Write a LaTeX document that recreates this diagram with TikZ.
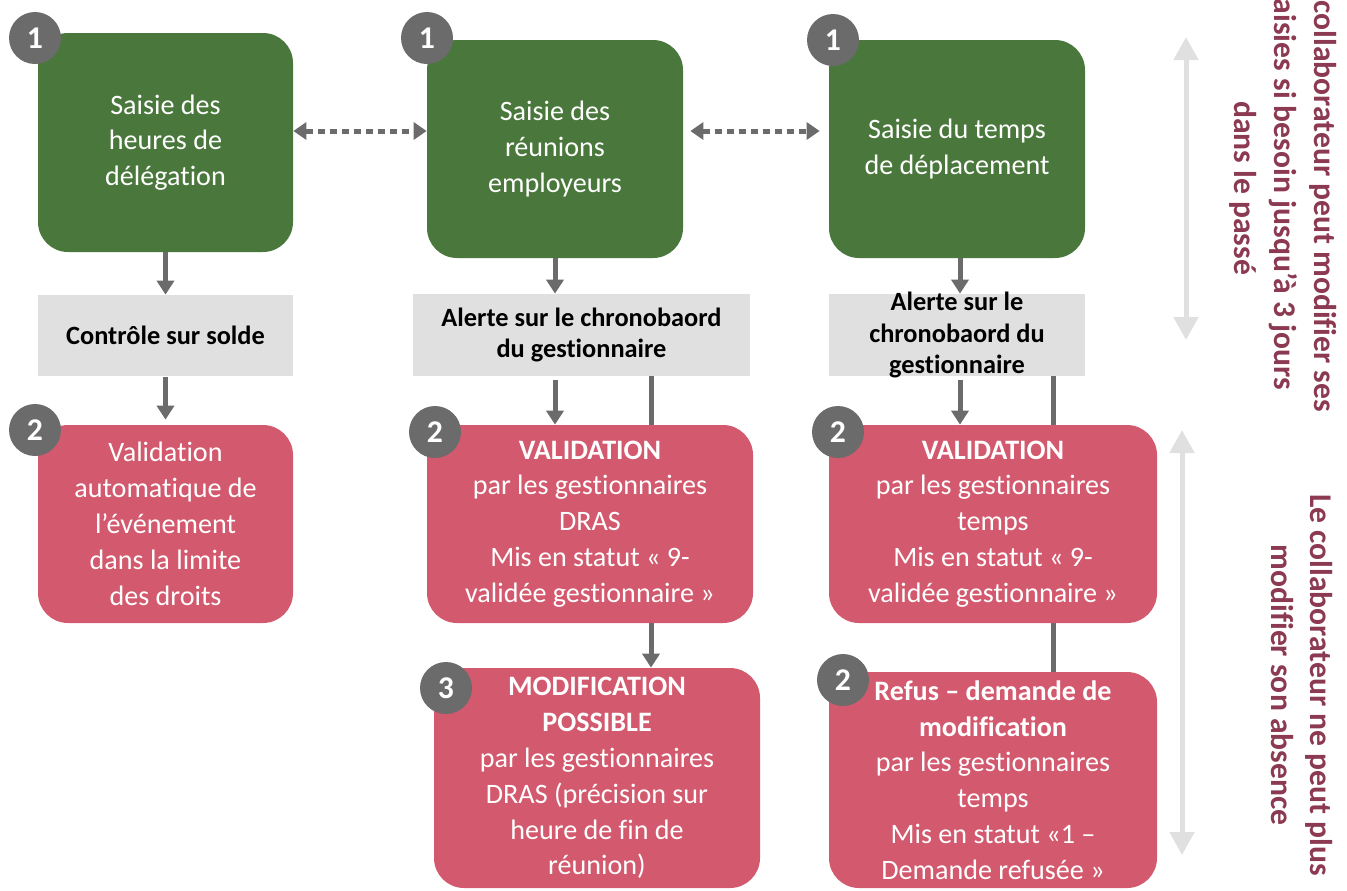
\documentclass[tikz,border=0pt]{standalone}
\usepackage{fontspec}
\setmainfont{Carlito}[Ligatures=NoCommon]
\usetikzlibrary{arrows.meta,backgrounds}

\definecolor{saisie}{HTML}{4A783C}
\definecolor{valid}{HTML}{D35A6E}
\definecolor{alerte}{HTML}{E0E0E0}
\definecolor{pastille}{HTML}{6B6B6B}
\definecolor{bordeaux}{HTML}{8B3A52}

\begin{document}
\begin{tikzpicture}[
	saisiebox/.style={fill=saisie, rounded corners=0.6cm, text=white, align=center, inner sep=0pt, font=\fontsize{16}{20.3}\selectfont},
	validbox/.style={fill=valid, rounded corners=0.6cm, text=white, align=center, inner sep=0pt, font=\fontsize{16}{20.4}\selectfont},
	alertebox/.style={fill=alerte, inner sep=0pt, align=center, font=\fontsize{15}{17.5}\selectfont\bfseries},
	badge/.style={circle, fill=pastille, text=white, minimum size=1.04cm, inner sep=0pt, font=\fontsize{18}{18}\selectfont\bfseries},
	lien/.style={draw=pastille, line width=0.1cm, -{Triangle[width=0.34cm,length=0.28cm]}},
	pointille/.style={draw=pastille, line width=0.1cm, dash pattern=on 0.14cm off 0.1cm, {Triangle[width=0.34cm,length=0.26cm]}-{Triangle[width=0.34cm,length=0.26cm]}},
	periode/.style={draw=alerte, line width=0.1cm, {Triangle[width=0.48cm,length=0.46cm]}-{Triangle[width=0.48cm,length=0.46cm]}},
	note/.style={rotate=-90, text=bordeaux, align=center, inner sep=0pt, font=\fontsize{18}{22.7}\selectfont\bfseries}
	]
	
	\useasboundingbox (0, 0) rectangle (26.94, -17.8);
	
	% saisies
	\node[saisiebox, minimum width=5.1cm, minimum height=4.38cm] (gA) at (3.31, -2.85) {Saisie des\\heures de\\délégation};
	\node[saisiebox, minimum width=5.12cm, minimum height=4.36cm] (gB) at (11.1, -2.98) {Saisie des\\réunions\\employeurs};
	\node[saisiebox, minimum width=5.12cm, minimum height=4.36cm] (gC) at (19.14, -2.98) {Saisie du temps\\de déplacement};
	
	% alertes
	\node[alertebox, minimum width=5.1cm, minimum height=1.62cm] (aA) at (3.31, -6.71) {Contrôle sur solde};
	\node[alertebox, minimum width=6.74cm, minimum height=1.64cm] (aB) at (11.63, -6.7) {Alerte sur le chronobaord\\du gestionnaire};
	\node[alertebox, minimum width=5.12cm, minimum height=1.64cm] (aC) at (19.14, -6.7) {};
	
	% validations
	\node[validbox, minimum width=5.1cm, minimum height=3.96cm] (vA) at (3.31, -10.48) {Validation\\automatique de\\l’événement\\dans la limite\\des droits};
	\node[validbox, minimum width=6.52cm, minimum height=3.96cm] (vB) at (11.8, -10.48) {\textbf{VALIDATION}\\par les gestionnaires\\DRAS\\Mis en statut « 9-\\validée gestionnaire »};
	\node[validbox, minimum width=6.56cm, minimum height=3.96cm] (vC) at (19.86, -10.48) {\textbf{VALIDATION}\\par les gestionnaires\\temps\\Mis en statut « 9-\\validée gestionnaire »};
	\node[validbox, minimum width=6.52cm, minimum height=4.4cm] (mB) at (11.94, -15.56) {\textbf{MODIFICATION}\\\textbf{POSSIBLE}\\par les gestionnaires\\DRAS (précision sur\\heure de fin de\\réunion)};
	\node[validbox, minimum width=6.56cm, minimum height=4.32cm] (rC) at (19.86, -15.6) {\textbf{Refus – demande de}\\\textbf{modification}\\par les gestionnaires\\temps\\Mis en statut «1 –\\Demande refusée »};
	
	% liens derriere les cases
	\begin{pgfonlayer}{background}
		\draw[lien] ([xshift=1.39cm]aB.south) -- ([xshift=1.39cm]aB.south |- mB.north);
		\draw[draw=pastille, line width=0.1cm] ([xshift=1.92cm]aC.south) -- ([xshift=1.92cm]aC.south |- rC.north);
	\end{pgfonlayer}
	
	\draw[lien] (gA) -- (aA);
	\draw[lien, shorten <=0.02cm, shorten >=0.1cm] (aA) -- (vA);
	\draw[lien] (gB.south) -- (gB.south |- aB.north);
	\draw[lien, shorten <=0.08cm] (aB.south -| gB.south) -- (vB.north -| gB.south);
	\draw[lien] ([xshift=0.06cm]gC.south) -- ([xshift=0.06cm]gC.south |- aC.north);
	\draw[lien, shorten <=0.08cm] ([xshift=0.06cm]gC.south |- aC.south) -- ([xshift=0.06cm]gC.south |- vC.north);
	
	\node[alertebox, fill=none, font=\fontsize{15}{18}\selectfont\bfseries] (aCtexte) at (aC) {Alerte sur le\\chronobaord du\\gestionnaire};
	
	\draw[pointille] ([yshift=0.23cm]gA.east) -- ([yshift=0.23cm]gA.east -| gB.west);
	\draw[pointille, shorten <=0.14cm, shorten >=0.18cm] ([yshift=0.36cm]gB.east) -- ([yshift=0.36cm]gB.east -| gC.west);
	
	% pastilles
	\node[badge] (b1A) at (0.7, -0.76) {1};
	\node[badge] (b1B) at (8.54, -0.76) {1};
	\node[badge] (b1C) at (16.66, -0.8) {1};
	\node[badge] (b2A) at (0.7, -8.6) {2};
	\node[badge] (b2B) at (8.7, -8.64) {2};
	\node[badge] (b2C) at (16.76, -8.64) {2};
	\node[badge] (b3B) at (8.92, -13.76) {3};
	\node[badge] (b2R) at (16.86, -13.6) {2};
	
	% periodes
	\coordinate (hautA) at (23.72, -0.74);
	\coordinate (basA) at (23.72, -6.8);
	\coordinate (hautB) at (23.64, -8.6);
	\coordinate (basB) at (23.64, -17.1);
	\draw[periode] (hautA) -- (basA);
	\draw[periode] (hautB) -- (basB);
	
	\node[note] (noteA) at (25.66, -3.76) {Le collaborateur peut modifier ses\\saisies si besoin jusqu’à 3 jours\\dans le passé};
	\node[note] (noteB) at (26.04, -13.7) {Le collaborateur ne peut plus\\modifier son absence};
	
\end{tikzpicture}
\end{document}
